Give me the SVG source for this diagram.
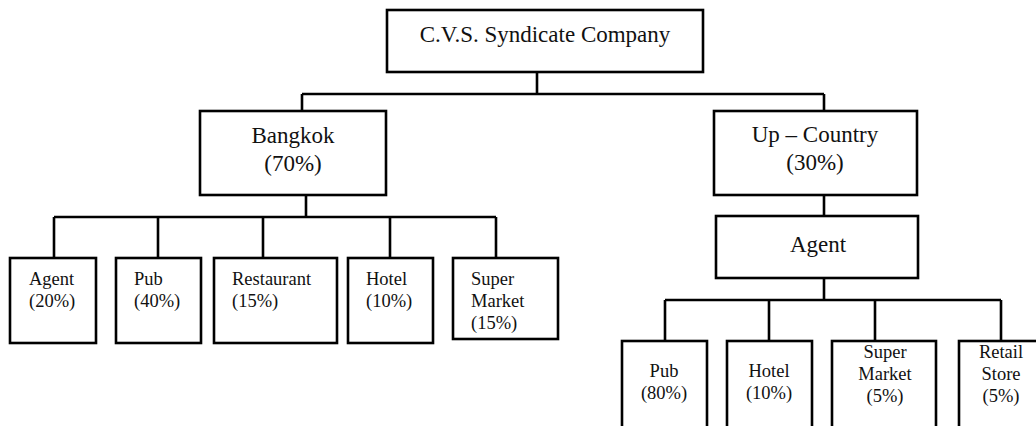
<svg xmlns="http://www.w3.org/2000/svg" width="1036" height="426" viewBox="0 0 1036 426">
<style>
.box{fill:#fff;stroke:#000;stroke-width:2.6}
.ln{fill:none;stroke:#000;stroke-width:2.6}
text{font-family:"Liberation Serif","Times New Roman",serif;fill:#111}
.t1{font-size:23px;text-anchor:middle}
.t3{font-size:18.5px}
.t4{font-size:18.5px;text-anchor:middle}
</style>
<rect width="1036" height="426" fill="#fff"/>
<g id="connectors">
<path class="ln" d="M537 72V94M302 94H824M302 94V111M824 94V111"/>
<path class="ln" d="M306 195V217M54 217H496M54 217V258M158 217V258M263 217V258M390 217V258M496 217V258"/>
<path class="ln" d="M824 195V216"/>
<path class="ln" d="M824 278V300M665 300H1001M665 300V341M769 300V341M875 300V341M1001 300V341"/>
</g>
<g id="company"><rect class="box" x="387" y="10" width="316" height="62"/><text class="t1" x="545" y="42">C.V.S. Syndicate Company</text></g>
<g id="bangkok"><rect class="box" x="200" y="111" width="186" height="84"/><text class="t1" x="293" y="143">Bangkok</text><text class="t1" x="293" y="171">(70%)</text></g>
<g id="upcountry"><rect class="box" x="714" y="111" width="203" height="84"/><text class="t1" x="815" y="142">Up – Country</text><text class="t1" x="815" y="170">(30%)</text></g>
<g id="agent-up"><rect class="box" x="716" y="216" width="202" height="62"/><text class="t1" x="818" y="252">Agent</text></g>
<g id="bkk-agent"><rect class="box" x="10" y="258" width="86" height="85"/><text class="t3" x="29" y="285">Agent</text><text class="t3" x="29" y="307">(20%)</text></g>
<g id="bkk-pub"><rect class="box" x="116" y="258" width="85" height="85"/><text class="t3" x="134" y="285">Pub</text><text class="t3" x="134" y="307">(40%)</text></g>
<g id="bkk-restaurant"><rect class="box" x="214" y="258" width="123" height="85"/><text class="t3" x="232" y="285">Restaurant</text><text class="t3" x="232" y="307">(15%)</text></g>
<g id="bkk-hotel"><rect class="box" x="348" y="258" width="85" height="85"/><text class="t3" x="366" y="285">Hotel</text><text class="t3" x="366" y="307">(10%)</text></g>
<g id="bkk-super"><rect class="box" x="453" y="258" width="105" height="81"/><text class="t3" x="471" y="285">Super</text><text class="t3" x="471" y="307">Market</text><text class="t3" x="471" y="329">(15%)</text></g>
<g id="up-pub"><rect class="box" x="622" y="341" width="85" height="95"/><text class="t4" x="664" y="377">Pub</text><text class="t4" x="664" y="399">(80%)</text></g>
<g id="up-hotel"><rect class="box" x="727" y="341" width="85" height="95"/><text class="t4" x="769" y="377">Hotel</text><text class="t4" x="769" y="399">(10%)</text></g>
<g id="up-super"><rect class="box" x="832" y="341" width="104" height="95"/><text class="t4" x="885" y="358">Super</text><text class="t4" x="885" y="380">Market</text><text class="t4" x="885" y="402">(5%)</text></g>
<g id="up-retail"><rect class="box" x="959" y="341" width="90" height="95"/><text class="t4" x="1001" y="358">Retail</text><text class="t4" x="1001" y="380">Store</text><text class="t4" x="1001" y="402">(5%)</text></g>
</svg>
